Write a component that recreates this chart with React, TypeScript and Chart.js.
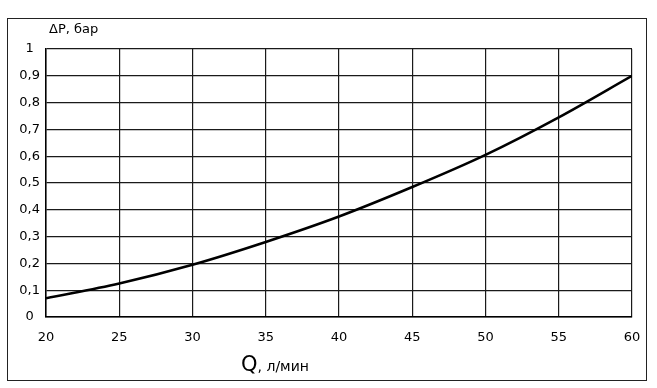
import React, { useEffect, useRef } from "react";
import { Chart, registerables } from "chart.js";

Chart.register(...registerables);

const flowRates = [20, 25, 30, 35, 40, 45, 50, 55, 60];
const pressureDrop = [0.07, 0.125, 0.195, 0.28, 0.375, 0.485, 0.605, 0.745, 0.9];
const yTickLabels = ["0", "0,1", "0,2", "0,3", "0,4", "0,5", "0,6", "0,7", "0,8", "0,9", "1"];
const yTitle = "ΔP, бар";
const xTitleMain = "Q";
const xTitleUnit = ", л/мин";

const FONT = "'DejaVu Sans', sans-serif";

const titlesPlugin = {
  id: "titles",
  afterDraw(chart: any) {
    const ctx = chart.ctx;
    ctx.save();
    ctx.fillStyle = "#000";
    ctx.textBaseline = "alphabetic";
    ctx.textAlign = "left";
    ctx.font = `13px ${FONT}`;
    ctx.fillText(yTitle, 49, 33);
    ctx.font = `21px ${FONT}`;
    ctx.fillText(xTitleMain, 241, 371);
    const w = ctx.measureText(xTitleMain).width;
    ctx.font = `14px ${FONT}`;
    ctx.fillText(xTitleUnit, 241 + w, 371);
    ctx.restore();
  },
};

export default function App() {
  const ref = useRef<HTMLCanvasElement>(null);
  useEffect(() => {
    document.body.style.margin = "0";
    const chart = new Chart(ref.current!, {
      type: "line",
      data: {
        datasets: [
          {
            data: flowRates.map((x, i) => ({ x, y: pressureDrop[i] })),
            borderColor: "#000",
            borderWidth: 2.5,
            pointRadius: 0,
            cubicInterpolationMode: "monotone",
            fill: false,
          },
        ],
      },
      options: {
        animation: false,
        responsive: false,
        maintainAspectRatio: false,
        layout: { padding: { left: 0, right: 25, top: 49, bottom: 40 } },
        plugins: { legend: { display: false }, tooltip: { enabled: false } },
        scales: {
          x: {
            type: "linear",
            min: 20,
            max: 60,
            border: { color: "#000", width: 1.5 },
            grid: { color: "#1a1a1a", lineWidth: 1.2, drawTicks: false },
            ticks: {
              stepSize: 5,
              padding: 13,
              color: "#000",
              font: { family: FONT, size: 13 },
              maxRotation: 0,
            },
            afterFit(scale: any) {
              scale.height = 31;
            },
          },
          y: {
            min: 0,
            max: 1,
            border: { color: "#000", width: 1.5 },
            grid: { color: "#1a1a1a", lineWidth: 1.2, drawTicks: false },
            ticks: {
              stepSize: 0.1,
              padding: 6,
              crossAlign: "center",
              color: "#000",
              font: { family: FONT, size: 13 },
              callback: (_v: any, i: number) => yTickLabels[i],
            },
            afterFit(scale: any) {
              scale.width = 46;
            },
          },
        },
      },
      plugins: [titlesPlugin],
    } as any);
    return () => chart.destroy();
  }, []);
  return (
    <div style={{ position: "relative", width: 657, height: 388, background: "#fff" }}>
      <canvas ref={ref} width={657} height={388} style={{ position: "absolute", left: 0, top: 0 }} />
      <div
        style={{
          position: "absolute",
          left: 7,
          top: 18,
          width: 638,
          height: 361,
          border: "1px solid #222",
          pointerEvents: "none",
        }}
      />
    </div>
  );
}
